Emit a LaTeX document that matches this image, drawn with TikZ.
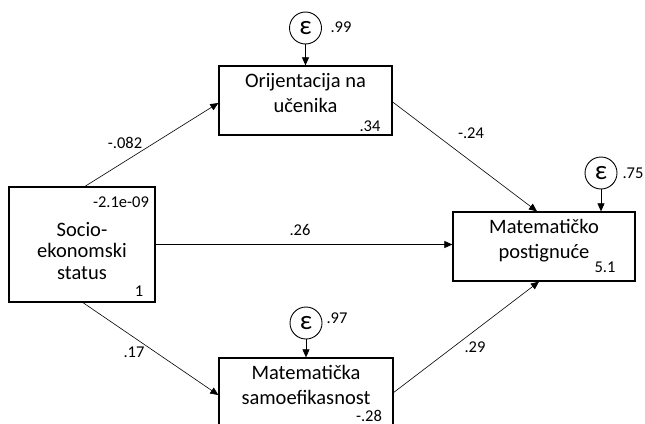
\documentclass[tikz,border=0pt]{standalone}
\usepackage{fontspec}
\setmainfont{Carlito}
\usetikzlibrary{arrows.meta}
\begin{document}
\begin{tikzpicture}[x=1pt,y=-1pt,
  box/.style={draw, line width=1.3pt, inner sep=0pt},
  boxtext/.style={align=center, font=\fontsize{20.5}{25}\selectfont, inner sep=0pt},
  num/.style={font=\fontsize{16.5}{18}\selectfont, inner sep=0pt},
  err/.style={draw, circle, line width=0.9pt, minimum size=32pt, inner sep=0pt, font=\fontsize{27}{27}\selectfont},
  arr/.style={line width=0.6pt, -{Triangle[length=8pt,width=7pt]}}]
\useasboundingbox (0,0) rectangle (645,423);
\clip (0,0) rectangle (645,423);
% boxes
\node[box, minimum width=146pt, minimum height=115pt] (ses) at (82,244.5) {};
\node[box, minimum width=173pt, minimum height=69pt] (ori) at (305.5,100.5) {};
\node[box, minimum width=174pt, minimum height=69pt] (sam) at (306,392.5) {};
\node[box, minimum width=182pt, minimum height=69pt] (mat) at (544,246.5) {};
% box texts
\node[boxtext, font=\fontsize{20.5}{21.5}\selectfont] (sest) at (82,251) {Socio-\\ekonomski\\status};
\node[boxtext] (orit) at (305.5,93.5) {Orijentacija na\\učenika};
\node[boxtext] (samt) at (306,384.5) {Matematička\\samoefikasnost};
\node[boxtext] (matt) at (544,240.5) {Matematičko\\postignuće};
% error circles
\node[err] (e1) at (305.5,28) {ε};
\node[err] (e2) at (306,323) {ε};
\node[err] (e3) at (601,173) {ε};
% connectors
\draw[arr] (e1) -- (ori.north);
\draw[arr] (e2) -- (sam.north);
\draw[arr] (e3) -- (e3 |- mat.north);
\draw[arr] ([xshift=3pt]ses.north) -- ([yshift=-2.5pt]ori.west);
\draw[arr] (ses.east) -- (ses.east -| mat.west);
\draw[arr] ([xshift=1pt]ses.south) -- ([yshift=-2.5pt]sam.west);
\draw[arr] ([yshift=-1.5pt]ori.east) -- ([xshift=-7pt]mat.north);
\draw[arr] (sam.east) -- ([xshift=-5pt]mat.south);
% path labels
\node[num] (l1) at (125,143) {-.082};
\node[num] (l2) at (300,230) {.26};
\node[num] (l3) at (134,352) {.17};
\node[num] (l4) at (471,133) {-.24};
\node[num] (l5) at (475,347) {.29};
% intercepts / variances
\node[num] (v1) at (121,202) {-2.1e-09};
\node[num] (v2) at (139,291) {1};
\node[num] (v3) at (370,126) {.34};
\node[num] (v4) at (369,416) {-.28};
\node[num] (v5) at (605,267) {5.1};
\node[num] (v6) at (341,27) {.99};
\node[num] (v7) at (337,318) {.97};
\node[num] (v8) at (633,173) {.75};
\end{tikzpicture}
\end{document}
